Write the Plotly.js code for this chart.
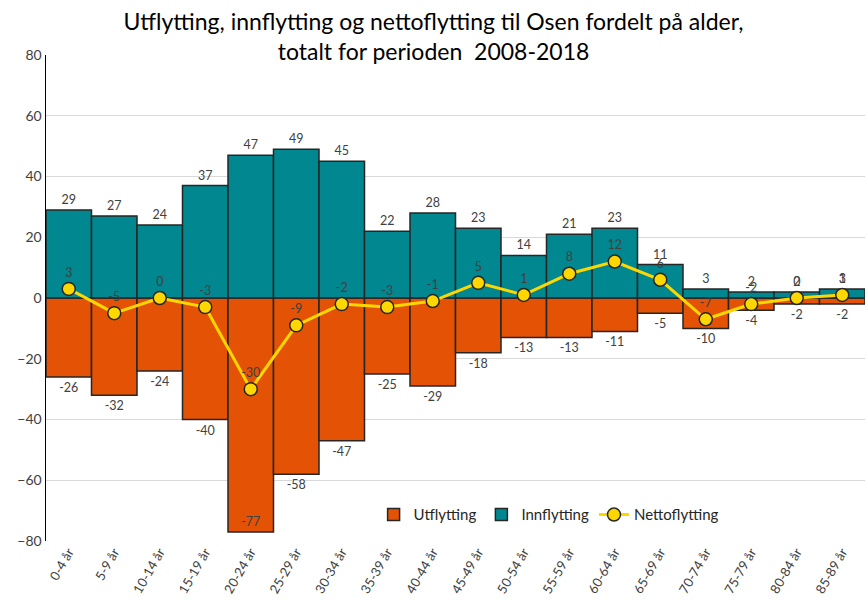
<!DOCTYPE html>
<html><head><meta charset="utf-8">
<script src="https://cdn.plot.ly/plotly-3.0.1.min.js"></script>
<style>body{margin:0}#c{width:867px;height:601px}</style>
</head><body><div id="c"></div>
<script>
const categories = ['0-4 år','5-9 år','10-14 år','15-19 år','20-24 år','25-29 år','30-34 år','35-39 år','40-44 år','45-49 år','50-54 år','55-59 år','60-64 år','65-69 år','70-74 år','75-79 år','80-84 år','85-89 år'];
const innflytting = [29,27,24,37,47,49,45,22,28,23,14,21,23,11,3,2,2,3];
const utflytting = [-26,-32,-24,-40,-77,-58,-47,-25,-29,-18,-13,-13,-11,-5,-10,-4,-2,-2];
const nettoflytting = [3,-5,0,-3,-30,-9,-2,-3,-1,5,1,8,12,6,-7,-2,0,1];

const fontFam = 'Lato, "Open Sans", sans-serif';
const labelFont = {family: fontFam, size: 12.5, color: '#404040'};

const traces = [
  {type:'bar', name:'Utflytting', x:categories, y:utflytting,
   marker:{color:'#E35205', line:{color:'#262626', width:1.5}},
   text: utflytting.map(String),
   textposition: utflytting.map(v => v < -70 ? 'inside' : 'outside'),
   insidetextanchor:'end',
   textfont: labelFont, insidetextfont: labelFont, outsidetextfont: labelFont,
   cliponaxis:false, hoverinfo:'none'},
  {type:'bar', name:'Innflytting', x:categories, y:innflytting,
   marker:{color:'#00878F', line:{color:'#262626', width:1.5}},
   text: innflytting.map(String), textposition:'outside',
   textfont: labelFont, outsidetextfont: labelFont,
   cliponaxis:false, hoverinfo:'none'},
  {type:'scatter', mode:'lines+markers+text', name:'Nettoflytting', x:categories, y:nettoflytting,
   line:{color:'#FFD700', width:3},
   marker:{color:'#FFD700', size:13, line:{color:'#262626', width:1.5}},
   text: nettoflytting.map(String), textposition:'top center',
   textfont: labelFont, cliponaxis:false, hoverinfo:'none'}
];

const layout = {
  width:867, height:601,
  margin:{l:46, r:2, t:55, b:60},
  paper_bgcolor:'#ffffff', plot_bgcolor:'#ffffff',
  barmode:'relative', bargap:0,
  title:{text:'Utflytting, innflytting og nettoflytting til Osen fordelt på alder,<br>totalt for perioden  2008-2018',
    font:{family:fontFam, size:23, color:'#000'}, x:0.5, xanchor:'center', y:0.95, yanchor:'middle'},
  xaxis:{range:[-0.5,17.5], autorange:false, tickangle:-60, tickfont:{family:fontFam, size:13, color:'#404040'},
    showline:false, showgrid:false, ticks:'', fixedrange:true},
  yaxis:{range:[-80,80], dtick:20, tickfont:{family:fontFam, size:14, color:'#404040'},
    showgrid:true, gridcolor:'#D9D9D9', gridwidth:1,
    zeroline:true, zerolinecolor:'#000', zerolinewidth:3,
    showline:true, linecolor:'#000', linewidth:1.5, ticks:'', ticklen:0},
  legend:{orientation:'h', x:0.40, y:0.02, xanchor:'left', yanchor:'bottom',
    font:{family:fontFam, size:15, color:'#262626'}, bgcolor:'rgba(255,255,255,0)', traceorder:'normal'},
  showlegend:true
};
Plotly.newPlot('c', traces, layout, {staticPlot:true});
</script></body></html>
